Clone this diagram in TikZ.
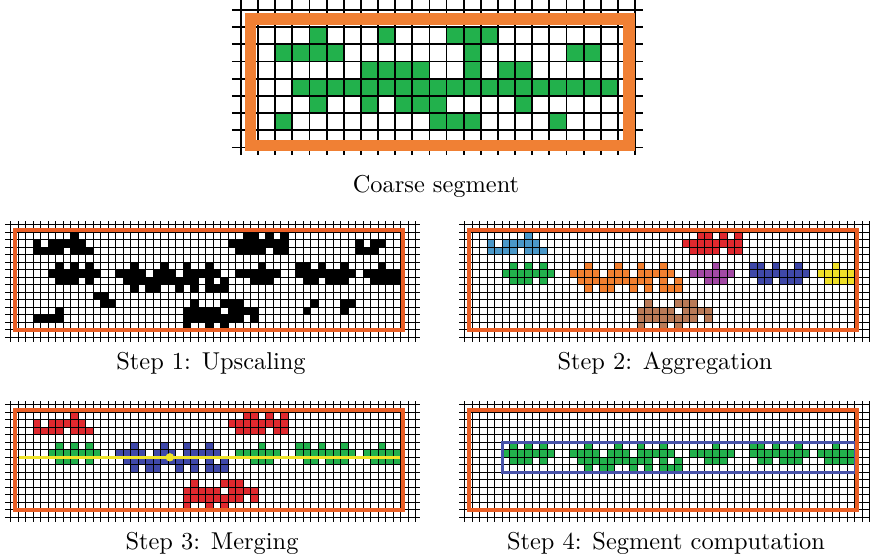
\documentclass[tikz,border=0pt]{standalone}
\usepackage{fontspec}
\setmainfont{lmroman10-regular.otf}
\definecolor{cgreen}{RGB}{34,177,76}
\definecolor{ctopor}{RGB}{240,128,52}
\definecolor{cbotor}{RGB}{233,94,36}
\definecolor{cltblue}{RGB}{74,152,201}
\definecolor{cred}{RGB}{224,40,46}
\definecolor{corange}{RGB}{242,128,48}
\definecolor{cpurple}{RGB}{163,73,164}
\definecolor{cnavy}{RGB}{63,72,168}
\definecolor{cyellow}{RGB}{240,224,40}
\definecolor{cbrown}{RGB}{185,122,87}
\definecolor{crect}{RGB}{72,82,170}
\definecolor{cyl}{RGB}{240,228,40}
\tikzset{
  topline/.style={black,line width=1.8pt},
  fineline/.style={black,line width=0.9pt},
  topframe/.style={ctopor,line width=11.5pt},
  botframe/.style={cbotor,line width=4pt},
  lbl/.style={anchor=base,inner sep=0pt,font=\fontsize{24.4}{29}\selectfont},
}
\newcommand\fcell[3]{\foreach \cc in {#3}{\fill[#1] (\cc,#2) rectangle ++(1,1);}}
\newcommand\shB[1]{\fcell{#1}{1}{8}\fcell{#1}{2}{3,5,6,7,8,9}\fcell{#1}{3}{3,4,5,6,8,9,10}}
\newcommand\shR[1]{\fcell{#1}{1}{31,32,34,36}\fcell{#1}{2}{29,30,31,32,33,34,35,36}\fcell{#1}{3}{30,31,32,33,35,36}}
\newcommand\shG[1]{\fcell{#1}{5}{6,8,10}\fcell{#1}{6}{5,6,7,8,9,10,11}\fcell{#1}{7}{6,7,8,10}}
\newcommand\shO[1]{\fcell{#1}{5}{16,20,23,26}\fcell{#1}{6}{14,15,16,17,19,20,21,23,24,25,26,27}\fcell{#1}{7}{15,16,17,18,19,20,21,22,23,24,26,28}\fcell{#1}{8}{16,18,19,22,24,26,27,28}}
\newcommand\shP[1]{\fcell{#1}{5}{33}\fcell{#1}{6}{30,31,32,33,34,35}\fcell{#1}{7}{32,33,34}}
\newcommand\shN[1]{\fcell{#1}{5}{38,39,41,44}\fcell{#1}{6}{38,39,40,41,42,43,44,45}\fcell{#1}{7}{39,40,42,43,44}}
\newcommand\shY[1]{\fcell{#1}{5}{49}\fcell{#1}{6}{47,48,49,50,51}\fcell{#1}{7}{48,49,50,51}}
\newcommand\shBr[1]{\fcell{#1}{10}{24,28,29,30}\fcell{#1}{11}{23,24,25,26,27,29,30,31,32}\fcell{#1}{12}{23,24,25,26,27,28,29,30,32}\fcell{#1}{13}{23,26,28}}
\newcommand\shX[1]{\fcell{#1}{2}{46,48,49}\fcell{#1}{3}{46,47,48}\fcell{#1}{9}{11,12}\fcell{#1}{10}{12,13}\fcell{#1}{11}{6}\fcell{#1}{12}{3,4,5,6}\fcell{#1}{10}{40,44,45}\fcell{#1}{11}{39,44}}
\newcommand\finegrid{\foreach \k in {0,...,54}{\draw[fineline] (\k,-0.45) -- (\k,15.6);}\foreach \m in {0,...,15}{\draw[fineline] (-0.75,\m) -- (54.6,\m);}}
\newcommand\fineframe{\draw[botframe] (0.6,0.73) rectangle (52.3,14.06);}
\begin{document}
\begin{tikzpicture}[x=1pt,y=-1pt]
\useasboundingbox (0,0) rectangle (870,559);
\clip (0,0) rectangle (870,559);
\fill[white] (0,0) rectangle (870,559);
% coarse segment
\begin{scope}[shift={(241,10)},x=17.13pt,y=-17.2pt]
  \fcell{cgreen}{1}{4,8,12,13,14}
  \fcell{cgreen}{2}{2,3,4,5,13,19,20}
  \fcell{cgreen}{3}{7,8,9,10,13,15,16}
  \fcell{cgreen}{4}{3,4,5,6,7,8,9,10,11,12,13,14,15,16,17,18,19,20,21}
  \fcell{cgreen}{5}{4,7,9,10,11,16}
  \fcell{cgreen}{6}{2,11,12,13,18}
  \foreach \k in {0,...,23}{\draw[topline] (\k,-0.6) -- (\k,8.45);}
  \foreach \m in {0,...,8}{\draw[topline] (-0.53,\m) -- (23.45,\m);}
  \draw[topframe] (0.55,0.52) rectangle (22.64,7.87);
\end{scope}
% step 1
\begin{scope}[shift={(10.8,224.8)},x=7.5pt,y=-7.5pt]
  \shB{black}\shR{black}\shG{black}\shO{black}\shP{black}\shN{black}\shY{black}\shBr{black}\shX{black}
  \finegrid
  \fineframe
\end{scope}
% step 2
\begin{scope}[shift={(464.8,224.8)},x=7.5pt,y=-7.5pt]
  \shB{cltblue}\shR{cred}\shG{cgreen}\shO{corange}\shP{cpurple}\shN{cnavy}\shY{cyellow}\shBr{cbrown}
  \finegrid
  \fineframe
\end{scope}
% step 3
\begin{scope}[shift={(10.8,404.8)},x=7.5pt,y=-7.5pt]
  \shB{cred}\shR{cred}\shG{cgreen}\shO{cnavy}\shP{cgreen}\shN{cgreen}\shY{cgreen}\shBr{cred}
  \finegrid
  \draw[cyl,line width=2.8pt] (1.1,7) -- (51.9,7);
  \fill[cyl] (21.2,7) circle (4.2pt);
  \fineframe
\end{scope}
% step 4
\begin{scope}[shift={(464.8,404.8)},x=7.5pt,y=-7.5pt]
  \shG{cgreen}\shO{cgreen}\shP{cgreen}\shN{cgreen}\shY{cgreen}
  \finegrid
  \draw[crect,line width=2.6pt] (5,5) rectangle (52,9);
  \fineframe
\end{scope}
% labels
\node[lbl] (l0) at (436,193) {Coarse segment};
\node[lbl] (l1) at (211,369.5) {Step 1: Upscaling};
\node[lbl] (l2) at (665,369.5) {Step 2: Aggregation};
\node[lbl] (l3) at (212,549.5) {Step 3: Merging};
\node[lbl] (l4) at (666,549.5) {Step 4: Segment computation};
\end{tikzpicture}
\end{document}
